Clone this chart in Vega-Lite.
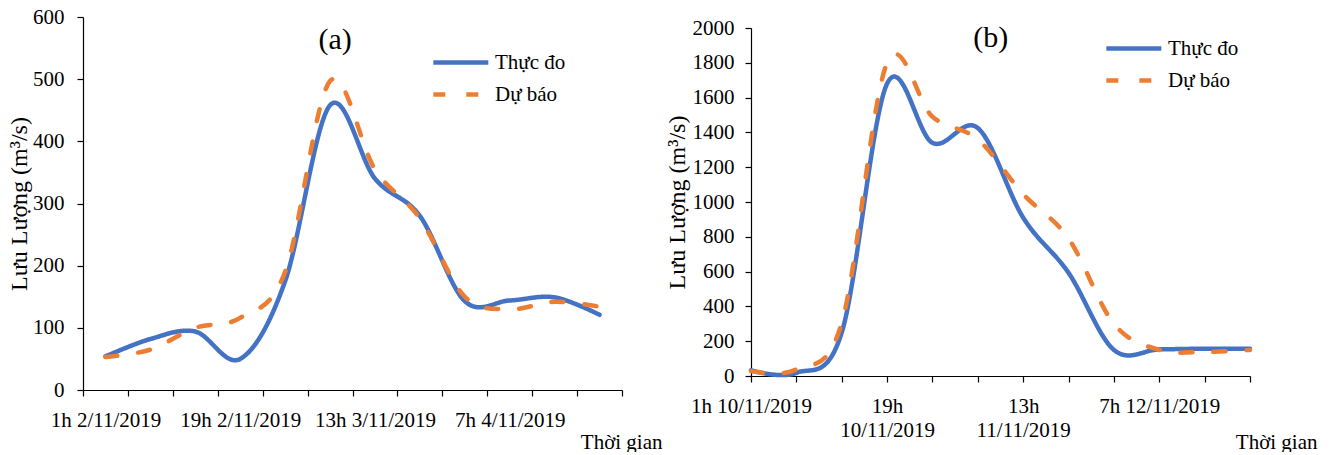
{
  "$schema": "https://vega.github.io/schema/vega-lite/v6.json",
  "background": "white",
  "padding": {"left": 7, "top": 6, "right": 5, "bottom": 0},
  "spacing": 3,
  "config": {
    "view": {"stroke": null},
    "font": "Liberation Serif",
    "axis": {
      "grid": false,
      "domainColor": "#000000",
      "tickColor": "#000000",
      "labelColor": "#000000",
      "titleColor": "#000000",
      "labelFont": "Liberation Serif",
      "titleFont": "Liberation Serif",
      "labelFontSize": 21,
      "titleFontSize": 21,
      "titleFontWeight": "normal",
      "tickSize": 6,
      "domainWidth": 1.2,
      "tickWidth": 1.2,
      "labelOverlap": false
    },
    "legend": {
      "orient": "none",
      "title": null,
      "labelFont": "Liberation Serif",
      "labelFontSize": 21,
      "labelColor": "#000000",
      "symbolType": "M-1,0H5",
      "symbolSize": 336,
      "symbolStrokeWidth": 4.5,
      "labelOffset": 41,
      "rowPadding": 10,
      "padding": 0
    }
  },
  "datasets": {
    "a": [
      {"time": "2019-11-02T01:00:00Z", "series": "Thực đo", "flow": 54},
      {"time": "2019-11-02T07:00:00Z", "series": "Thực đo", "flow": 82},
      {"time": "2019-11-02T13:00:00Z", "series": "Thực đo", "flow": 94},
      {"time": "2019-11-02T19:00:00Z", "series": "Thực đo", "flow": 50},
      {"time": "2019-11-03T01:00:00Z", "series": "Thực đo", "flow": 175},
      {"time": "2019-11-03T07:00:00Z", "series": "Thực đo", "flow": 458},
      {"time": "2019-11-03T13:00:00Z", "series": "Thực đo", "flow": 340},
      {"time": "2019-11-03T19:00:00Z", "series": "Thực đo", "flow": 280},
      {"time": "2019-11-04T01:00:00Z", "series": "Thực đo", "flow": 143},
      {"time": "2019-11-04T07:00:00Z", "series": "Thực đo", "flow": 144},
      {"time": "2019-11-04T13:00:00Z", "series": "Thực đo", "flow": 149},
      {"time": "2019-11-04T19:00:00Z", "series": "Thực đo", "flow": 121},
      {"time": "2019-11-02T01:00:00Z", "series": "Dự báo", "flow": 53},
      {"time": "2019-11-02T07:00:00Z", "series": "Dự báo", "flow": 65},
      {"time": "2019-11-02T13:00:00Z", "series": "Dự báo", "flow": 100},
      {"time": "2019-11-02T19:00:00Z", "series": "Dự báo", "flow": 116},
      {"time": "2019-11-03T01:00:00Z", "series": "Dự báo", "flow": 190},
      {"time": "2019-11-03T07:00:00Z", "series": "Dự báo", "flow": 497},
      {"time": "2019-11-03T13:00:00Z", "series": "Dự báo", "flow": 355},
      {"time": "2019-11-03T19:00:00Z", "series": "Dự báo", "flow": 276},
      {"time": "2019-11-04T01:00:00Z", "series": "Dự báo", "flow": 150},
      {"time": "2019-11-04T07:00:00Z", "series": "Dự báo", "flow": 130},
      {"time": "2019-11-04T13:00:00Z", "series": "Dự báo", "flow": 142},
      {"time": "2019-11-04T19:00:00Z", "series": "Dự báo", "flow": 134}
    ],
    "b": [
      {"time": "2019-11-10T01:00:00Z", "series": "Thực đo", "flow": 33},
      {"time": "2019-11-10T07:00:00Z", "series": "Thực đo", "flow": 18},
      {"time": "2019-11-10T13:00:00Z", "series": "Thực đo", "flow": 250},
      {"time": "2019-11-10T19:00:00Z", "series": "Thực đo", "flow": 1680},
      {"time": "2019-11-11T01:00:00Z", "series": "Thực đo", "flow": 1340},
      {"time": "2019-11-11T07:00:00Z", "series": "Thực đo", "flow": 1425},
      {"time": "2019-11-11T13:00:00Z", "series": "Thực đo", "flow": 910},
      {"time": "2019-11-11T19:00:00Z", "series": "Thực đo", "flow": 593},
      {"time": "2019-11-12T01:00:00Z", "series": "Thực đo", "flow": 150},
      {"time": "2019-11-12T07:00:00Z", "series": "Thực đo", "flow": 153},
      {"time": "2019-11-12T13:00:00Z", "series": "Thực đo", "flow": 157},
      {"time": "2019-11-12T19:00:00Z", "series": "Thực đo", "flow": 157},
      {"time": "2019-11-10T01:00:00Z", "series": "Dự báo", "flow": 28},
      {"time": "2019-11-10T07:00:00Z", "series": "Dự báo", "flow": 38},
      {"time": "2019-11-10T13:00:00Z", "series": "Dự báo", "flow": 305},
      {"time": "2019-11-10T19:00:00Z", "series": "Dự báo", "flow": 1800},
      {"time": "2019-11-11T01:00:00Z", "series": "Dự báo", "flow": 1490},
      {"time": "2019-11-11T07:00:00Z", "series": "Dự báo", "flow": 1360},
      {"time": "2019-11-11T13:00:00Z", "series": "Dự báo", "flow": 1045},
      {"time": "2019-11-11T19:00:00Z", "series": "Dự báo", "flow": 790},
      {"time": "2019-11-12T01:00:00Z", "series": "Dự báo", "flow": 300},
      {"time": "2019-11-12T07:00:00Z", "series": "Dự báo", "flow": 150},
      {"time": "2019-11-12T13:00:00Z", "series": "Dự báo", "flow": 138},
      {"time": "2019-11-12T19:00:00Z", "series": "Dự báo", "flow": 150}
    ]
  },
  "resolve": {"scale": {"color": "independent", "strokeDash": "independent"}},
  "hconcat": [
    {
      "width": 539,
      "height": 373,
      "layer": [
        {
          "data": {"name": "a"},
          "mark": {"type": "line", "interpolate": "cardinal", "strokeWidth": 4.5, "strokeCap": "round"},
          "encoding": {
            "x": {
              "field": "time", "type": "temporal",
              "scale": {"type": "utc", "domain": [1572645600000, 1572904800000]},
              "axis": {
                "values": [1572645600000, 1572667200000, 1572688800000, 1572710400000, 1572732000000, 1572753600000, 1572775200000, 1572796800000, 1572818400000, 1572840000000, 1572861600000, 1572883200000, 1572904800000],
                "labelExpr": "((toNumber(datum.value) - 1572645600000) / 21600000) % 3 === 0 && toNumber(datum.value) < 1572904800000 ? utchours(toNumber(datum.value) + 10800000) + 'h ' + utcdate(toNumber(datum.value) + 10800000) + '/' + (utcmonth(toNumber(datum.value) + 10800000) + 1) + '/' + utcyear(toNumber(datum.value) + 10800000) : ''",
                "labelOffset": 22.46,
                "labelFlush": false,
                "labelOverlap": false,
                "labelPadding": 13,
                "title": "Thời gian",
                "titleX": 579,
                "titleY": 58,
                "titleAlign": "right",
                "titleBaseline": "alphabetic"
              }
            },
            "y": {
              "field": "flow", "type": "quantitative",
              "scale": {"domain": [0, 600]},
              "axis": {
                "values": [0, 100, 200, 300, 400, 500, 600],
                "format": "d",
                "labelOverlap": false,
                "labelPadding": 13,
                "title": "Lưu Lượng (m³/s)",
                "titleFontSize": 24,
                "titlePadding": 1
              }
            },
            "color": {
              "field": "series", "type": "nominal",
              "scale": {"domain": ["Thực đo", "Dự báo"], "range": ["#4472C4", "#ED7D31"]},
              "legend": {"legendX": 348, "legendY": 34}
            },
            "strokeDash": {
              "field": "series", "type": "nominal",
              "scale": {"domain": ["Thực đo", "Dự báo"], "range": [[1, 0], [12, 21]]},
              "legend": {"legendX": 348, "legendY": 34}
            }
          }
        },
        {
          "data": {"values": [{"label": "(a)"}]},
          "mark": {"type": "text", "fontSize": 30, "font": "Liberation Serif", "color": "#000000"},
          "encoding": {
            "x": {"datum": {"year": 2019, "month": 11, "date": 3, "hours": 7, "minutes": 40, "utc": true}, "type": "temporal"},
            "y": {"datum": 563, "type": "quantitative"},
            "text": {"field": "label"}
          }
        }
      ]
    },
    {
      "width": 499,
      "height": 359,
      "layer": [
        {
          "data": {"name": "b"},
          "mark": {"type": "line", "interpolate": "cardinal", "strokeWidth": 4.5, "strokeCap": "round"},
          "encoding": {
            "x": {
              "field": "time", "type": "temporal",
              "scale": {"type": "utc", "domain": [1573347600000, 1573585200000]},
              "axis": {
                "values": [1573347600000, 1573369200000, 1573390800000, 1573412400000, 1573434000000, 1573455600000, 1573477200000, 1573498800000, 1573520400000, 1573542000000, 1573563600000, 1573585200000],
                "labelExpr": "((toNumber(datum.value) - 1573347600000) / 21600000) % 3 !== 0 ? '' : (((toNumber(datum.value) - 1573347600000) / 21600000) % 9 === 0 ? utchours(datum.value) + 'h ' + utcdate(datum.value) + '/' + (utcmonth(datum.value) + 1) + '/' + utcyear(datum.value) : [utchours(datum.value) + 'h', utcdate(datum.value) + '/' + (utcmonth(datum.value) + 1) + '/' + utcyear(datum.value)])",
                "labelFlush": false,
                "labelOverlap": false,
                "labelPadding": 13,
                "labelLineHeight": 24,
                "title": "Thời gian",
                "titleX": 566,
                "titleY": 72,
                "titleAlign": "right",
                "titleBaseline": "alphabetic"
              }
            },
            "y": {
              "field": "flow", "type": "quantitative",
              "scale": {"domain": [0, 2000], "range": [359, 11]},
              "axis": {
                "values": [0, 200, 400, 600, 800, 1000, 1200, 1400, 1600, 1800, 2000],
                "format": "d",
                "labelOverlap": false,
                "labelPadding": 11,
                "title": "Lưu Lượng (m³/s)",
                "titleFontSize": 24,
                "titlePadding": 3
              }
            },
            "color": {
              "field": "series", "type": "nominal",
              "scale": {"domain": ["Thực đo", "Dự báo"], "range": ["#4472C4", "#ED7D31"]},
              "legend": {"legendX": 353, "legendY": 20}
            },
            "strokeDash": {
              "field": "series", "type": "nominal",
              "scale": {"domain": ["Thực đo", "Dự báo"], "range": [[1, 0], [12, 21]]},
              "legend": {"legendX": 353, "legendY": 20}
            }
          }
        },
        {
          "data": {"values": [{"label": "(b)"}]},
          "mark": {"type": "text", "fontSize": 30, "font": "Liberation Serif", "color": "#000000"},
          "encoding": {
            "x": {
              "datum": {"year": 2019, "month": 11, "date": 11, "hours": 8, "minutes": 43, "utc": true}, "type": "temporal",
              "axis": {
                "values": [1573347600000, 1573369200000, 1573390800000, 1573412400000, 1573434000000, 1573455600000, 1573477200000, 1573498800000, 1573520400000, 1573542000000, 1573563600000, 1573585200000],
                "labelExpr": "((toNumber(datum.value) - 1573347600000) / 21600000) % 3 !== 0 ? '' : (((toNumber(datum.value) - 1573347600000) / 21600000) % 9 === 0 ? utchours(datum.value) + 'h ' + utcdate(datum.value) + '/' + (utcmonth(datum.value) + 1) + '/' + utcyear(datum.value) : [utchours(datum.value) + 'h', utcdate(datum.value) + '/' + (utcmonth(datum.value) + 1) + '/' + utcyear(datum.value)])",
                "labelFlush": false,
                "labelOverlap": false,
                "labelPadding": 13,
                "labelLineHeight": 24,
                "title": "Thời gian",
                "titleX": 566,
                "titleY": 72,
                "titleAlign": "right",
                "titleBaseline": "alphabetic"
              }
            },
            "y": {
              "datum": 1940, "type": "quantitative",
              "axis": {
                "values": [0, 200, 400, 600, 800, 1000, 1200, 1400, 1600, 1800, 2000],
                "format": "d",
                "labelOverlap": false,
                "labelPadding": 11,
                "title": "Lưu Lượng (m³/s)",
                "titleFontSize": 24,
                "titlePadding": 3
              }
            },
            "text": {"field": "label"}
          }
        }
      ]
    }
  ]
}
